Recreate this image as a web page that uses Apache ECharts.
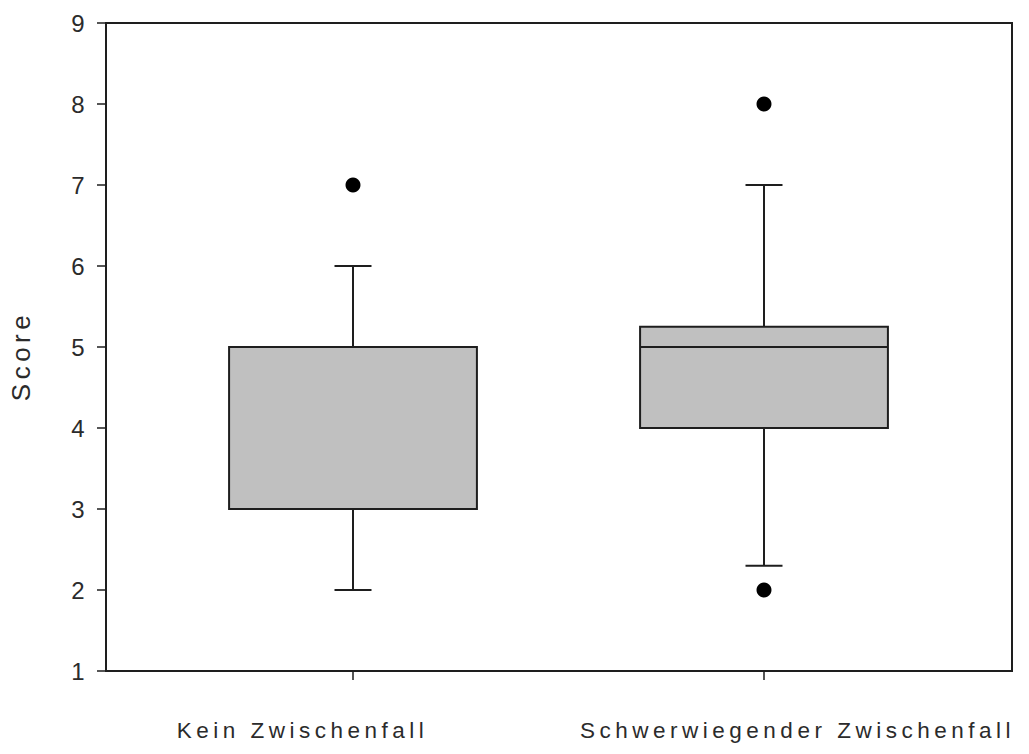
<!DOCTYPE html>
<html>
<head>
<meta charset="utf-8">
<title>Score</title>
<script src="https://cdn.jsdelivr.net/npm/echarts@6/dist/echarts.min.js"></script>
<style>
  html, body { margin: 0; padding: 0; background: #fff; }
  #chart { width: 1029px; height: 754px; }
  /* wide, letter-spaced lettering of the labels */
  #chart text { letter-spacing: 4.5px; }
</style>
</head>
<body>
<div id="chart"></div>
<script>
// Groups and their box-plot statistics (Score)
const categories = ['Kein Zwischenfall', 'Schwerwiegender Zwischenfall'];
const whiskerLow  = [2, 2.3];
const quartile1   = [3, 4];
const median      = [5, 5];
const quartile3   = [5, 5.25];
const whiskerHigh = [6, 7];
const outliers    = [[7], [8, 2]];
const yTicks = [1, 2, 3, 4, 5, 6, 7, 8, 9];

// Group positions on the horizontal value scale (1, 2, ...)
const groupPos = categories.map((_, i) => i + 1);

const boxData = groupPos.map((x, i) =>
  [x, whiskerLow[i], quartile1[i], median[i], quartile3[i], whiskerHigh[i]]);
const outlierData = [];
outliers.forEach((list, i) => list.forEach(v => outlierData.push([groupPos[i], v])));

// layout of the horizontal scale
const xMin = 1 - 247 / 411;
const xMax = xMin + 906 / 411;
const labelPos = [0.877, 2.0815];
const boxSpan = 0.603;
const capSpan = 0.09;

const font = 'Liberation Sans, Arial, Helvetica, sans-serif';
const ink = '#1e1e1e';

const chart = echarts.init(document.getElementById('chart'), null, { renderer: 'svg' });

chart.setOption({
  animation: false,
  backgroundColor: '#ffffff',
  grid: {
    left: 106, top: 23, right: 17, bottom: 83,
    show: true, borderColor: ink, borderWidth: 2, backgroundColor: 'transparent'
  },
  xAxis: {
    type: 'value',
    min: xMin,
    max: xMax,
    splitLine: { show: false },
    axisLine: { show: true, onZero: false, lineStyle: { color: ink, width: 2 } },
    axisTick: { show: true, inside: false, length: 9, customValues: groupPos, lineStyle: { color: ink, width: 1.5 } },
    axisLabel: {
      customValues: labelPos,
      formatter: v => categories[Math.abs(v - labelPos[0]) < 0.5 ? 0 : 1],
      margin: 48,
      fontSize: 22.5,
      color: '#2b2b2b',
      fontFamily: font
    }
  },
  yAxis: {
    type: 'value',
    min: yTicks[0],
    max: yTicks[yTicks.length - 1],
    interval: 1,
    name: 'Score',
    nameLocation: 'middle',
    nameGap: 72,
    nameTextStyle: { fontSize: 26, color: '#2b2b2b', fontFamily: font, padding: [0, 18, 0, 0] },
    splitLine: { show: false },
    axisLine: { show: true, lineStyle: { color: ink, width: 2 } },
    axisTick: { show: true, inside: false, length: 9, lineStyle: { color: ink, width: 1.5 } },
    axisLabel: { margin: 17, fontSize: 24, color: '#2b2b2b', fontFamily: font }
  },
  series: [
    {
      type: 'custom',
      data: boxData,
      encode: { x: 0, y: [1, 2, 3, 4, 5] },
      renderItem: function (params, api) {
        const x = api.value(0);
        const lo = api.coord([x, api.value(1)]);
        const q1 = api.coord([x, api.value(2)]);
        const md = api.coord([x, api.value(3)]);
        const q3 = api.coord([x, api.value(4)]);
        const hi = api.coord([x, api.value(5)]);
        const half = api.size([boxSpan, 0])[0] / 2;
        const capHalf = api.size([capSpan, 0])[0] / 2;
        const line = { stroke: ink, lineWidth: 2 };
        return {
          type: 'group',
          children: [
            { type: 'line', shape: { x1: hi[0], y1: hi[1], x2: q3[0], y2: q3[1] }, style: line },
            { type: 'line', shape: { x1: q1[0], y1: q1[1], x2: lo[0], y2: lo[1] }, style: line },
            { type: 'line', shape: { x1: hi[0] - capHalf, y1: hi[1], x2: hi[0] + capHalf, y2: hi[1] }, style: line },
            { type: 'line', shape: { x1: lo[0] - capHalf, y1: lo[1], x2: lo[0] + capHalf, y2: lo[1] }, style: line },
            {
              type: 'rect',
              shape: { x: q3[0] - half, y: q3[1], width: half * 2, height: q1[1] - q3[1] },
              style: { fill: '#c0c0c0', stroke: ink, lineWidth: 2 }
            },
            { type: 'line', shape: { x1: md[0] - half, y1: md[1], x2: md[0] + half, y2: md[1] }, style: line }
          ]
        };
      }
    },
    {
      type: 'scatter',
      data: outlierData,
      symbol: 'circle',
      symbolSize: 15,
      itemStyle: { color: '#000000', opacity: 1 },
      z: 5
    }
  ]
});
</script>
</body>
</html>
